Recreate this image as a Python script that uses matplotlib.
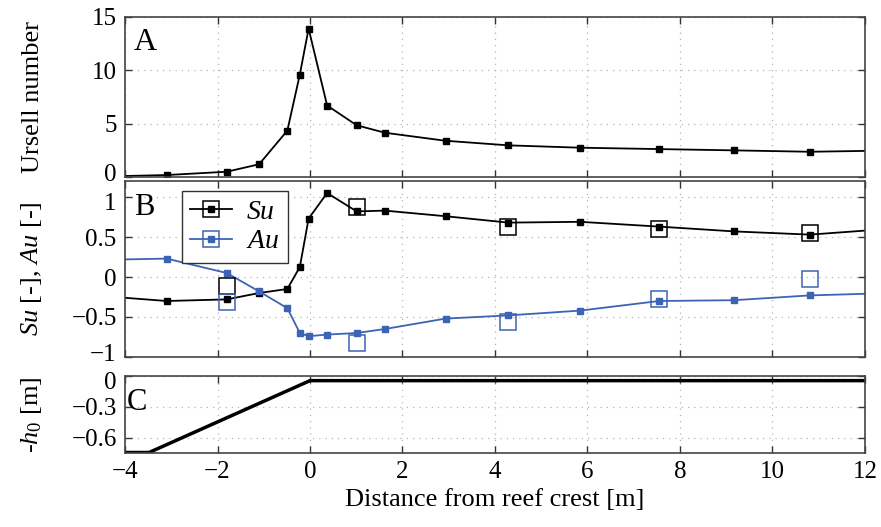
import numpy as np
import matplotlib
matplotlib.use('Agg')
import matplotlib.pyplot as plt
import matplotlib.transforms as mtransforms
from matplotlib.lines import Line2D

plt.rcParams['font.family'] = ['Liberation Serif', 'DejaVu Serif']
plt.rcParams['mathtext.fontset'] = 'custom'
plt.rcParams['mathtext.rm'] = 'Liberation Serif'
plt.rcParams['mathtext.it'] = 'Liberation Serif:italic'
plt.rcParams['font.size'] = 19

# Distance from reef crest [m] at the measurement stations
x_st = [-3.10, -1.80, -1.10, -0.49, -0.22, -0.03, 0.37, 1.01, 1.62, 2.93,
        4.29, 5.84, 7.55, 9.17, 10.81]
# line ends (model extends over the full domain)
x_ends = [-4.0, 12.0]

ursell = [0.19, 0.5, 1.2, 4.35, 9.6, 13.9, 6.7, 4.85, 4.15, 3.4,
          2.97, 2.75, 2.62, 2.5, 2.37]
ursell_ends = [0.1, 2.45]

su = [-0.30, -0.28, -0.20, -0.15, 0.125, 0.73, 1.05, 0.82, 0.83, 0.76,
      0.68, 0.69, 0.63, 0.57, 0.53]
su_ends = [-0.26, 0.58]

au = [0.23, 0.05, -0.18, -0.39, -0.70, -0.74, -0.72, -0.70, -0.65, -0.52,
      -0.48, -0.42, -0.30, -0.29, -0.23]
au_ends = [0.22, -0.21]

# observations (large open squares)
x_obs = [-1.80, 1.02, 4.29, 7.55, 10.81]
su_obs = [-0.11, 0.88, 0.62, 0.60, 0.55]
au_obs = [-0.31, -0.83, -0.56, -0.28, -0.02]

# bathymetry
x_bed = [-4.0, -3.48, 0.0, 12.0]
h_bed = [-0.745, -0.745, -0.045, -0.045]

blue = '#3d63b5'
grid_kw = dict(color='#b5b5b5', linestyle=(0, (1, 4)), linewidth=0.9)


def full(xs, ys, ends):
    xx = [x_ends[0]] + list(xs) + [x_ends[1]]
    yy = [ends[0]] + list(ys) + [ends[1]]
    return xx, yy


fig = plt.figure(figsize=(8.81, 5.27), dpi=100)
left, right = 0.1419, 0.9818
axA = fig.add_axes([left, 0.664, right - left, 0.968 - 0.664])
axB = fig.add_axes([left, 0.3226, right - left, 0.6565 - 0.3226])
axC = fig.add_axes([left, 0.1404, right - left, 0.2865 - 0.1404])

# Panel A
xx, yy = full(x_st, ursell, ursell_ends)
axA.plot(xx, yy, color='black', lw=1.3, marker='s', ms=4,
         markevery=list(range(1, len(xx) - 1)))
axA.set_ylim(0, 15)
axA.set_yticks([0, 5, 10, 15])
axA.set_ylabel('Ursell number')
axA.text(0.012, 0.93, 'A', transform=axA.transAxes, fontsize=23, va='top')

# Panel B
xx, yy = full(x_st, su, su_ends)
axB.plot(xx, yy, color='black', lw=1.3, marker='s', ms=4,
         markevery=list(range(1, len(xx) - 1)))
xx, yy = full(x_st, au, au_ends)
axB.plot(xx, yy, color=blue, lw=1.3, marker='s', ms=4,
         markevery=list(range(1, len(xx) - 1)))
axB.plot(x_obs, su_obs, ls='none', marker='s', ms=12, mfc='none',
         mec='black', mew=1.1)
axB.plot(x_obs, au_obs, ls='none', marker='s', ms=12, mfc='none',
         mec=blue, mew=1.1)
axB.set_ylim(-1, 1.2)
axB.set_yticks([-1, -0.5, 0, 0.5, 1])
axB.set_yticklabels(['\u22121', '\u22120.5', '0', '0.5', '1'])
axB.set_ylabel('$Su$ [-], $Au$ [-]')
axB.text(0.012, 0.93, 'B', transform=axB.transAxes, fontsize=22, va='top')

h_su = (Line2D([], [], color='black', lw=1.3, marker='s', ms=4),
        Line2D([], [], ls='none', marker='s', ms=12, mfc='none', mec='black', mew=1.1))
h_au = (Line2D([], [], color=blue, lw=1.3, marker='s', ms=4),
        Line2D([], [], ls='none', marker='s', ms=12, mfc='none', mec=blue, mew=1.1))
leg = axB.legend([h_su, h_au], ['$Su$', '$Au$'], loc='upper left',
                 bbox_to_anchor=(0.077, 0.943), borderaxespad=0,
                 fancybox=False, framealpha=1,
                 edgecolor='#333333', fontsize=20, handlelength=1.5,
                 borderpad=0.3, labelspacing=0.15, handletextpad=0.5)
leg.get_frame().set_linewidth(1.0)

# Panel C
axC.plot(x_bed, h_bed, color='black', lw=2.5)
axC.set_ylim(-0.75, 0)
axC.set_yticks([-0.6, -0.3, 0])
axC.set_yticklabels(['\u22120.6', '\u22120.3', '0'])
axC.set_ylabel('-$h_0$ [m]')
axC.set_xlabel('Distance from reef crest [m]')
axC.text(0.002, 0.84, 'C', transform=axC.transAxes, fontsize=22, va='top')

for ax in (axA, axB, axC):
    ax.set_xlim(-4, 12)
    ax.set_xticks(np.arange(-4, 13, 2))
    ax.grid(True, **grid_kw)
    ax.tick_params(direction='in', top=True, right=True, length=5,
                   width=1, color='#333333', labelsize=18, pad=6)
    for s in ax.spines.values():
        s.set_color('#444444')
        s.set_linewidth(1.2)
for ax in (axA, axB):
    ax.tick_params(labelbottom=False)

for ax in (axA, axB, axC):
    ax.yaxis.set_label_coords(-0.109, 0.5)

# nudge the crowded end labels apart a little
fig.canvas.draw()
up = mtransforms.ScaledTranslation(0, 3 / 72, fig.dpi_scale_trans)
down = mtransforms.ScaledTranslation(0, -3 / 72, fig.dpi_scale_trans)
for ax_lo, ax_hi in ((axB, axA), (axC, axB)):
    lab_top = ax_lo.get_yticklabels()[-1]
    lab_top.set_transform(lab_top.get_transform() + down)
    lab_bot = ax_hi.get_yticklabels()[0]
    lab_bot.set_transform(lab_bot.get_transform() + up)

fig.savefig('out.png', dpi=100)
